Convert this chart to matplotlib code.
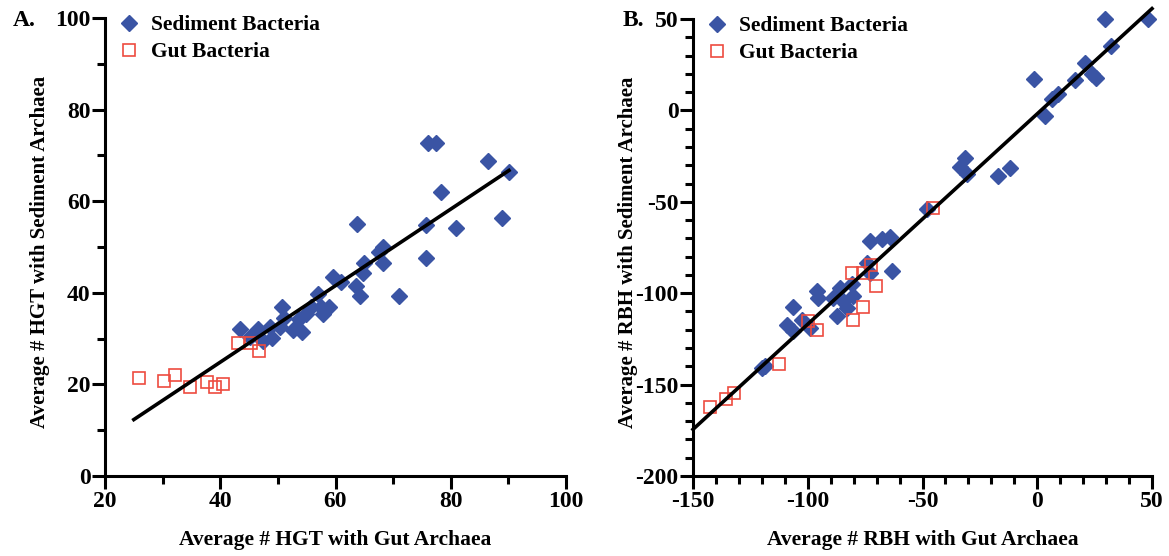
import numpy as np
import matplotlib
matplotlib.use('Agg')
import matplotlib.pyplot as plt
from matplotlib.ticker import MultipleLocator

plt.rcParams['font.family'] = ['Liberation Serif', 'DejaVu Serif']
plt.rcParams['font.weight'] = 'bold'
plt.rcParams['axes.unicode_minus'] = False

# Panel A: average number of HGT events
hgt_sed_x = [43.5, 45.2, 46.6, 47.5, 48.7, 49.0, 50.8, 51.0, 50.4, 52.7, 54.1, 53.6, 54.8,
             55.7, 56.9, 57.4, 57.9, 58.8, 59.5, 60.9, 63.5, 64.3, 63.7, 64.9, 64.7, 68.2,
             67.5, 68.2, 71.0, 75.7, 75.7, 76.0, 77.4, 86.4, 90.1, 78.3, 88.9, 80.9]
hgt_sed_y = [32.2, 30.3, 32.2, 29.4, 32.5, 30.1, 37.0, 34.6, 32.5, 31.8, 31.4, 34.2, 35.3,
             37.0, 39.7, 37.0, 35.3, 36.8, 43.4, 42.3, 41.4, 39.2, 55.1, 46.6, 44.4, 50.1,
             48.8, 46.6, 39.4, 54.9, 47.5, 72.8, 72.8, 68.8, 66.4, 62.1, 56.4, 54.2]
hgt_gut_x = [25.9, 30.2, 32.2, 34.8, 37.7, 39.1, 40.5, 43.1, 45.4, 46.8]
hgt_gut_y = [21.4, 20.8, 22.1, 19.4, 20.5, 19.5, 20.0, 29.0, 29.0, 27.3]

# Panel B: average number of reciprocal best hits
rbh_sed_x = [-118.6, -119.9, -109.0, -106.4, -106.4, -102.5, -99.0, -96.0, -95.5, -89.0,
             -85.9, -84.6, -87.3, -82.9, -80.3, -80.7, -74.2, -72.9, -63.5, -72.9, -67.6,
             -64.2, -48.0, -31.5, -33.7, -30.6, -17.1, -11.9, 3.4, -1.4, 6.4, 9.0, 16.4,
             20.8, 23.8, 25.6, 32.1, 29.5, 48.3]
rbh_sed_y = [-139.8, -141.0, -117.6, -107.7, -120.9, -114.8, -119.2, -99.0, -102.8, -102.8,
             -97.4, -104.5, -112.7, -108.3, -101.7, -94.7, -83.7, -89.2, -87.6, -71.7, -70.6,
             -69.5, -53.7, -25.9, -30.8, -34.6, -35.7, -31.3, -2.9, 17.2, 6.3, 9.1, 16.7,
             26.0, 20.0, 17.8, 35.3, 50.0, 50.0]
rbh_gut_x = [-142.6, -135.6, -132.1, -112.5, -99.9, -96.0, -80.3, -75.9, -70.3, -80.7,
             -75.9, -72.4, -45.4]
rbh_gut_y = [-162.3, -158.0, -154.7, -138.9, -115.4, -120.3, -114.8, -107.7, -96.3, -89.2,
             -89.2, -84.3, -53.2]

blue = '#3a54a4'
red = '#ee4b3f'

fig = plt.figure(figsize=(11.69, 5.56), dpi=100)
ax1 = fig.add_axes([105 / 1169, 1 - 476 / 556, 461 / 1169, 458 / 556])
ax2 = fig.add_axes([693 / 1169, 1 - 476 / 556, 459 / 1169, 457 / 556])


def style(ax, xlim, ylim, xmaj, xmin, ymaj, ymin, xlabel, ylabel):
    ax.set_xlim(xlim)
    ax.set_ylim(ylim)
    ax.xaxis.set_major_locator(MultipleLocator(xmaj))
    ax.xaxis.set_minor_locator(MultipleLocator(xmin))
    ax.yaxis.set_major_locator(MultipleLocator(ymaj))
    ax.yaxis.set_minor_locator(MultipleLocator(ymin))
    for s in ['top', 'right']:
        ax.spines[s].set_visible(False)
    for s in ['left', 'bottom']:
        ax.spines[s].set_linewidth(2.2)
    ax.tick_params(which='major', length=9.5, width=2.2, labelsize=17, pad=1)
    ax.tick_params(which='minor', length=5.5, width=2.2)
    for lab in ax.get_xticklabels() + ax.get_yticklabels():
        lab.set_fontweight('bold')
    ax.set_xlabel(xlabel, fontsize=15.5, fontweight='bold')
    ax.set_ylabel(ylabel, fontsize=15, fontweight='bold')
    ax.xaxis.set_label_coords(0.5, -0.118)
    ax.yaxis.set_label_coords(-0.12, 0.49)
    ax.legend(loc='upper left', bbox_to_anchor=(0.0, 1.03), frameon=False,
              prop={'size': 15.5, 'weight': 'bold'}, handletextpad=0.45,
              labelspacing=0.32, borderpad=0, handlelength=1.2)


def fit_line(ax, x, y, x0, x1):
    k, b = np.polyfit(x, y, 1)
    xs = np.array([x0, x1])
    ax.plot(xs, k * xs + b, color='black', lw=2.6, zorder=3, clip_on=False)


# Panel A
ax1.plot(hgt_sed_x, hgt_sed_y, 'D', ms=8, color=blue, mec=blue, label='Sediment Bacteria',
         zorder=2, clip_on=False)
ax1.plot(hgt_gut_x, hgt_gut_y, 's', ms=8.5, mfc='none', mec=red, mew=1.2, label='Gut Bacteria',
         zorder=2, clip_on=False)
all_x = hgt_sed_x + hgt_gut_x
all_y = hgt_sed_y + hgt_gut_y
fit_line(ax1, all_x, all_y, 25, max(all_x))
style(ax1, (20, 100), (0, 100), 20, 10, 20, 10,
      'Average # HGT with Gut Archaea', 'Average # HGT with Sediment Archaea')

# Panel B
ax2.plot(rbh_sed_x, rbh_sed_y, 'D', ms=8, color=blue, mec=blue, label='Sediment Bacteria',
         zorder=2, clip_on=False)
ax2.plot(rbh_gut_x, rbh_gut_y, 's', ms=8.5, mfc='none', mec=red, mew=1.2, label='Gut Bacteria',
         zorder=2, clip_on=False)
fit_line(ax2, rbh_sed_x + rbh_gut_x, rbh_sed_y + rbh_gut_y, -150, 50)
style(ax2, (-150, 50), (-200, 50), 50, 10, 50, 10,
      'Average # RBH with Gut Archaea', 'Average # RBH with Sediment Archaea')

fig.text(13 / 1169, 1 - 20 / 556, 'A.', fontsize=17, fontweight='bold', va='center')
fig.text(623 / 1169, 1 - 20 / 556, 'B.', fontsize=17, fontweight='bold', va='center')

fig.savefig('out.png', dpi=100)
